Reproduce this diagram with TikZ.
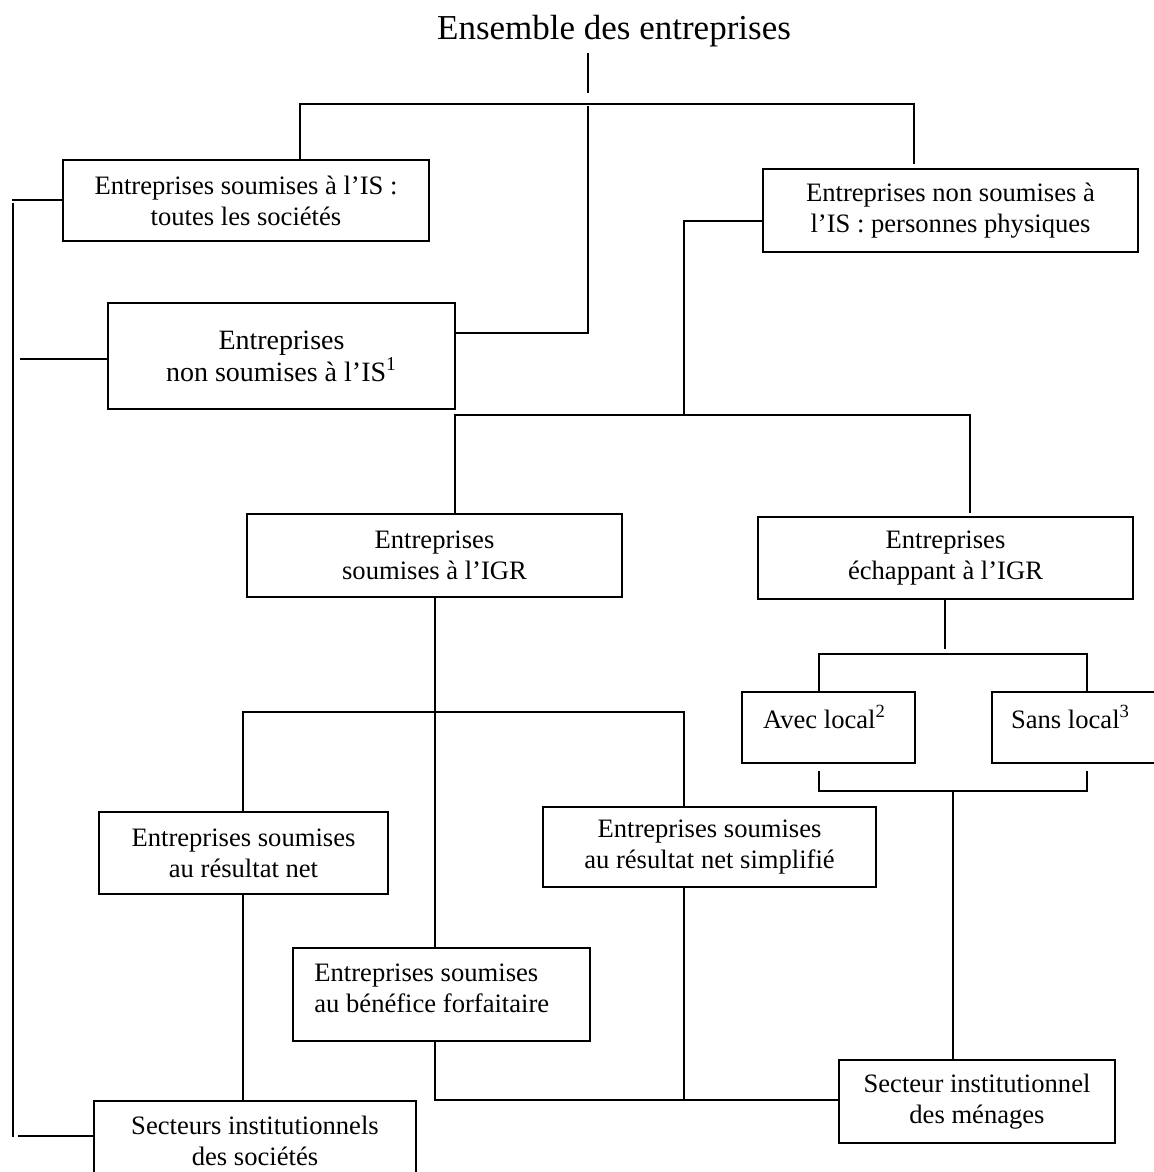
\documentclass[tikz,border=0pt]{standalone}
\usepackage{fontspec}
\setmainfont{Liberation Serif}
\begin{document}
\begin{tikzpicture}[x=0.5pt,y=-0.5pt,
  box/.style={draw, line width=1.2pt, inner sep=0pt, align=center,
    font=\fontsize{13.3}{15.5}\selectfont},
  txt/.style={inner sep=0pt, align=center, font=\fontsize{13.3}{15.5}\selectfont},
  conn/.style={line width=0.9pt}]
\useasboundingbox (0,0) rectangle (1154,1172);

% title
\node[inner sep=0pt, anchor=base, font=\fontsize{17.5}{20}\selectfont] (title) at (614,39.5) {Ensemble des entreprises};

% boxes
\node[box, minimum width=183pt, minimum height=40.5pt] (b1) at (246,200.5)
  {Entreprises soumises à l’IS :\\toutes les sociétés};
\node[box, minimum width=173.5pt, minimum height=53pt, font=\fontsize{14}{16}\selectfont] (b2) at (281.5,356)
  {Entreprises\\non soumises à l’IS\textsuperscript{1}};
\node[box, minimum width=187.5pt, minimum height=41.5pt] (b3) at (950.5,210.5)
  {Entreprises non soumises à\\l’IS : personnes physiques};
\node[box, minimum width=187.5pt, minimum height=41.5pt] (b4) at (434.5,555.5)
  {Entreprises\\soumises à l’IGR};
\node[box, minimum width=187.5pt, minimum height=41pt] (b5) at (945.5,558)
  {Entreprises\\échappant à l’IGR};
\node[box, minimum width=86.5pt, minimum height=35.5pt] (avec) at (828.5,727.5) {};
\node[txt, anchor=base] (avect) at (824.5,728) {Avec local\textsuperscript{2}};
\node[box, minimum width=86.5pt, minimum height=35.5pt] (sans) at (1078.5,727.5) {};
\node[txt, anchor=base] (sanst) at (1070.5,728.3) {Sans local\textsuperscript{3}};
\node[box, minimum width=144.5pt, minimum height=41pt] (b6) at (243.5,853)
  {Entreprises soumises\\au résultat net};
\node[box, minimum width=166.5pt, minimum height=40pt] (b7) at (709.5,847)
  {Entreprises soumises\\au résultat net simplifié};
\node[box, minimum width=148.5pt, minimum height=46.5pt] (b8) at (441.5,994.5) {};
\node[txt, align=left, anchor=west] (b8t) at (314,988.4)
  {Entreprises soumises\\au bénéfice forfaitaire};
\node[box, minimum width=161pt, minimum height=44.5pt] (b9) at (255,1145.5) {};
\node[txt] (b9t) at (255,1141) {Secteurs institutionnels\\des sociétés};
\node[box, minimum width=138pt, minimum height=41.5pt] (b10) at (977,1101.5)
  {Secteur institutionnel\\des ménages};

% coordinates
\coordinate (tA) at (588,53);
\coordinate (tB) at (588,93);
\coordinate (busL) at (300,104);
\coordinate (busM) at (588,104);
\coordinate (busMb) at (588,106);
\coordinate (busR) at (914,104);
\coordinate (c2) at (588,333);
\coordinate (r1) at (684,221);
\coordinate (bus2L) at (455,415);
\coordinate (bus2R) at (970,415);
\coordinate (bus3L) at (243,712);
\coordinate (bus3M) at (435,712);
\coordinate (bus3R) at (684,712);
\coordinate (bot) at (435,1100);
\coordinate (bot2) at (684,1100);
\coordinate (e1) at (945,649);
\coordinate (e2L) at (819,654);
\coordinate (e2R) at (1087,654);
\coordinate (brL) at (819,771);
\coordinate (brR) at (1087,771);
\coordinate (brM) at (953,791);
\coordinate (L1) at (13,203);
\coordinate (L2) at (13,1137);

% connectors
\draw[conn] (tA) -- (tB);
\draw[conn] (busL |- b1.north) -- (busL) -- (busR) -- (914,164);
\draw[conn] (busMb) -- (c2) -- (c2 -| b2.east);
\draw[conn] (r1 -| b3.west) -- (r1) -- (r1 |- bus2L);
\draw[conn] (bus2L |- b4.north) -- (bus2L) -- (bus2R) -- (970,513);
\draw[conn] (bus3M |- b4.south) -- (bus3M |- b8.north);
\draw[conn] (bus3L |- b6.north) -- (bus3L) -- (bus3R) -- (bus3R |- b7.north);
\draw[conn] (bus3L |- b6.south) -- (bus3L |- b9.north);
\draw[conn] (bot |- b8.south) -- (bot) -- (bot -| b10.west);
\draw[conn] (bot2 |- b7.south) -- (bot2);
\draw[conn] (e1 |- b5.south) -- (e1);
\draw[conn] (e2L |- avec.north) -- (e2L) -- (e2R) -- (e2R |- sans.north);
\draw[conn] (brL) -- (819,791) -- (1087,791) -- (brR);
\draw[conn] (brM) -- (brM |- b10.north);
\draw[conn] (L1) -- (L2);
\draw[conn] (12,200) -- (b1.west |- 0,200);
\draw[conn] (20,359) -- (b2.west |- 0,359);
\draw[conn] (18,1136) -- (b9.west |- 0,1136);
\end{tikzpicture}
\end{document}
